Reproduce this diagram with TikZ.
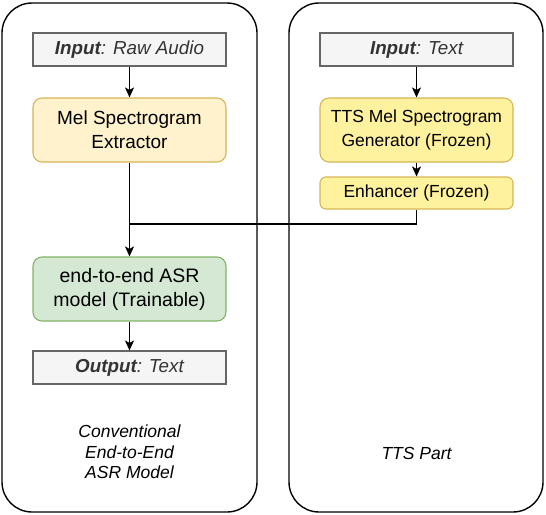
\documentclass[tikz,border=0pt]{standalone}
\usepackage{fontspec}
\setmainfont{Liberation Sans}
\usetikzlibrary{arrows.meta}
\definecolor{iofill}{HTML}{F5F5F5}
\definecolor{iodraw}{HTML}{666666}
\definecolor{iotext}{HTML}{333333}
\definecolor{melfill}{HTML}{FFF2CC}
\definecolor{meldraw}{HTML}{D6B656}
\definecolor{ttsfill}{HTML}{FFF29E}
\definecolor{asrfill}{HTML}{D5E8D4}
\definecolor{asrdraw}{HTML}{82B366}
\tikzset{
  container/.style={draw=black, line width=1.4pt, rounded corners=30pt},
  iobox/.style={draw=iodraw, fill=iofill, line width=1.1pt, text=iotext,
    minimum width=193pt, minimum height=33pt, inner sep=0pt,
    font=\fontsize{18.8}{22}\selectfont\itshape},
  procbox/.style={draw=meldraw, line width=1.1pt, rounded corners=9pt,
    minimum width=193pt, inner sep=0pt, align=center,
    font=\fontsize{17.5}{24}\selectfont},
  lbl/.style={align=center, font=\fontsize{17.5}{20.5}\selectfont\itshape},
  conn/.style={draw=black, line width=1.3pt, -{Stealth[length=10pt,width=9pt,inset=2.5pt]}},
  plain/.style={draw=black, line width=1.3pt}
}
\begin{document}
\begin{tikzpicture}[x=1pt,y=-1pt]
\useasboundingbox (0,0) rectangle (546,514);
% containers
\draw[container] (2,3) rectangle (257,512);
\draw[container] (289,3) rectangle (543,512);
% left column
\node[iobox] (inA) at (129.5,49.5) {\textbf{Input}: Raw Audio};
\node[procbox, fill=melfill, minimum height=64pt, font=\fontsize{19}{24}\selectfont] (mel) at (129.5,130) {Mel Spectrogram\\Extractor};
\node[procbox, fill=asrfill, draw=asrdraw, minimum height=64pt, font=\fontsize{19.5}{24}\selectfont] (asr) at (129.5,289) {end-to-end ASR\\model (Trainable)};
\node[iobox] (out) at (129.5,367.5) {\textbf{Output}: Text};
\node[lbl] (lblL) at (129.5,452) {Conventional\\End-to-End\\ASR Model};
% right column
\node[iobox] (inT) at (416.5,49.5) {\textbf{Input}: Text};
\node[procbox, fill=ttsfill, minimum height=64pt] (tts) at (416.5,130) {TTS Mel Spectrogram\\Generator (Frozen)};
\node[procbox, fill=ttsfill, minimum height=32pt, rounded corners=6pt] (enh) at (416.5,193) {Enhancer (Frozen)};
\node[lbl] (lblR) at (416.5,453) {TTS Part};
% connectors
\coordinate (j) at (mel.south |- 0,224);
\draw[conn] (inA) -- (mel);
\draw[conn] (mel) -- (asr);
\draw[conn] (asr) -- (out);
\draw[conn] (inT) -- (tts);
\draw[conn] (tts) -- (enh);
\draw[plain] (enh.south) |- (j);
\end{tikzpicture}
\end{document}
